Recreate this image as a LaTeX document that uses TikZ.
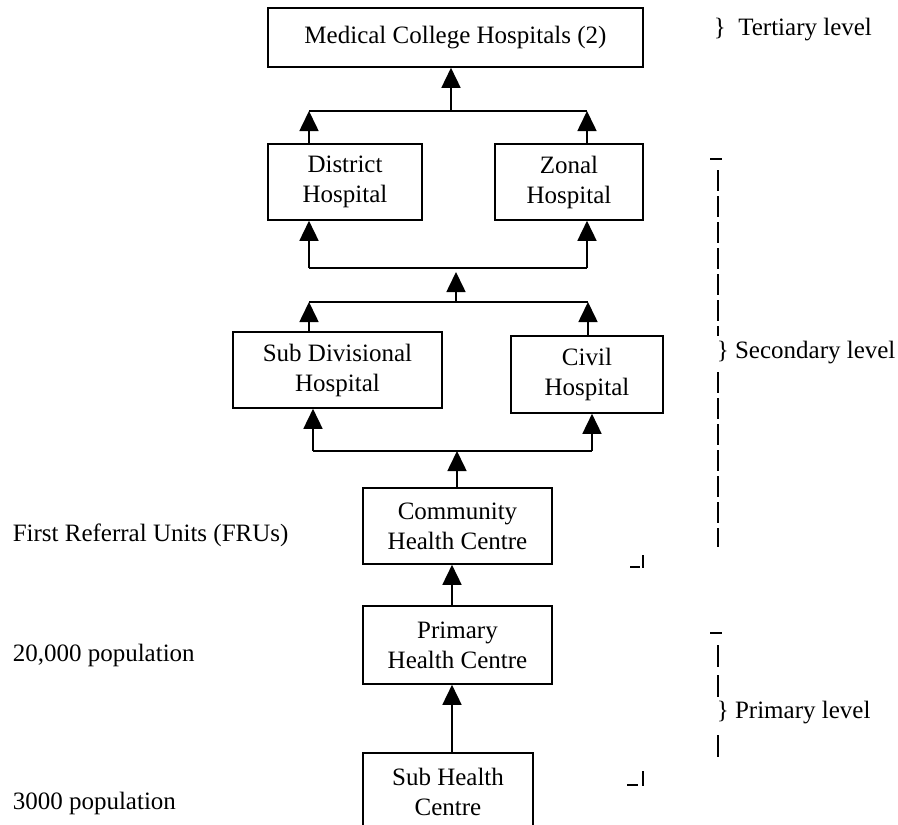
\documentclass[tikz,border=0pt]{standalone}
\usepackage{fontspec}
\setmainfont{Liberation Serif}
\usetikzlibrary{arrows.meta}

\begin{document}
\begin{tikzpicture}[
    x=1pt, y=-1pt,
    line width=1.6pt,
    font=\fontsize{25}{30}\selectfont,
    box node/.style={rectangle,draw,align=center,inner sep=0pt},
    label node/.style={anchor=west,inner sep=0pt},
    up arrow/.style={-{Triangle[length=20pt,width=19pt]}},
    level mark/.style={line width=1.5pt}
]
\useasboundingbox (0,0) rectangle (898,825);
\clip (0,0) rectangle (898,825);

% Tertiary
\node[box node, minimum width=375pt, minimum height=59pt] (mch) at (455.5,37.5) {\raisebox{5pt}{Medical College Hospitals (2)}};

% Secondary
\node[box node, minimum width=154pt, minimum height=76pt] (district) at (345,182) {District\\Hospital};
\node[box node, minimum width=148pt, minimum height=76pt] (zonal) at (569,182) {Zonal\\Hospital};
\node[box node, minimum width=209pt, minimum height=76pt] (subdiv) at (337.5,370) {Sub Divisional\\Hospital};
\node[box node, minimum width=152pt, minimum height=77pt] (civil) at (587,374.5) {Civil\\Hospital};
\node[box node, minimum width=189pt, minimum height=76pt] (chc) at (457.5,526) {Community\\Health Centre};

% Primary
\node[box node, minimum width=189pt, minimum height=78pt] (phc) at (457.5,645) {Primary\\Health Centre};
\node[box node, minimum width=170pt, minimum height=78pt] (shc) at (448,792) {Sub Health\\Centre};

% Junction bars
\coordinate (bar1l) at (309,111);
\coordinate (bar1r) at (587,111);
\coordinate (bar1m) at (451,111);
\coordinate (bar2l) at (309,268);
\coordinate (bar2r) at (587,268);
\coordinate (bar2m) at (456,268);
\coordinate (bar3l) at (309,302);
\coordinate (bar3r) at (588,302);
\coordinate (bar3m) at (456,302);
\coordinate (bar4l) at (313,451);
\coordinate (bar4r) at (592,451);
\coordinate (bar4m) at (457,451);
\coordinate (stem) at (452,0);

% Arrows
\draw (bar1l) -- (bar1r);
\draw[up arrow] (district.north -| bar1l) -- (bar1l);
\draw[up arrow] (zonal.north -| bar1r) -- (bar1r);
\draw[up arrow] (bar1m) -- (mch.south -| bar1m);

\draw (bar2l) -- (bar2r);
\draw[up arrow] (bar2l) -- (district.south -| bar2l);
\draw[up arrow] (bar2r) -- (zonal.south -| bar2r);
\draw[up arrow, shorten >=4pt] (bar3m) -- (bar2m);

\draw (bar3l) -- (bar3r);
\draw[up arrow] (subdiv.north -| bar3l) -- (bar3l);
\draw[up arrow] (civil.north -| bar3r) -- (bar3r);

\draw (bar4l) -- (bar4r);
\draw[up arrow] (bar4l) -- (subdiv.south -| bar4l);
\draw[up arrow] (bar4r) -- (civil.south -| bar4r);
\draw[up arrow] (chc.north -| bar4m) -- (bar4m);

\draw[up arrow] (phc.north -| stem) -- (chc.south -| stem);
\draw[up arrow] (shc.north -| stem) -- (phc.south -| stem);

% Left labels
\node[label node] (fru) at (12,535) {First Referral Units (FRUs)};
\node[label node] (pop20) at (12,655) {20,000 population};
\node[label node] (pop3) at (12,803) {3000 population};

% Level labels
\node[label node] (tertiary) at (713,30) {\}\ \ Tertiary level};
\node[label node] (secondary) at (716,353) {\} Secondary level};
\node[label node] (primary) at (716,713) {\} Primary level};

% Secondary bracket
\draw[level mark] (710,159) -- (722,159);
\draw[level mark, dash pattern=on 21pt off 5pt] (718,170) -- (718,336);
\draw[level mark, dash pattern=on 21pt off 5pt] (718,372) -- (718,547);
\draw[level mark] (630,567) -- (640,567);
\draw[level mark] (643,555) -- (643,568);

% Primary bracket
\draw[level mark] (710,633) -- (722,633);
\draw[level mark] (718,645) -- (718,667);
\draw[level mark] (718,675) -- (718,697);
\draw[level mark] (718,735) -- (718,757);
\draw[level mark] (627,785) -- (638,785);
\draw[level mark] (643,771) -- (643,786);

\end{tikzpicture}
\end{document}
